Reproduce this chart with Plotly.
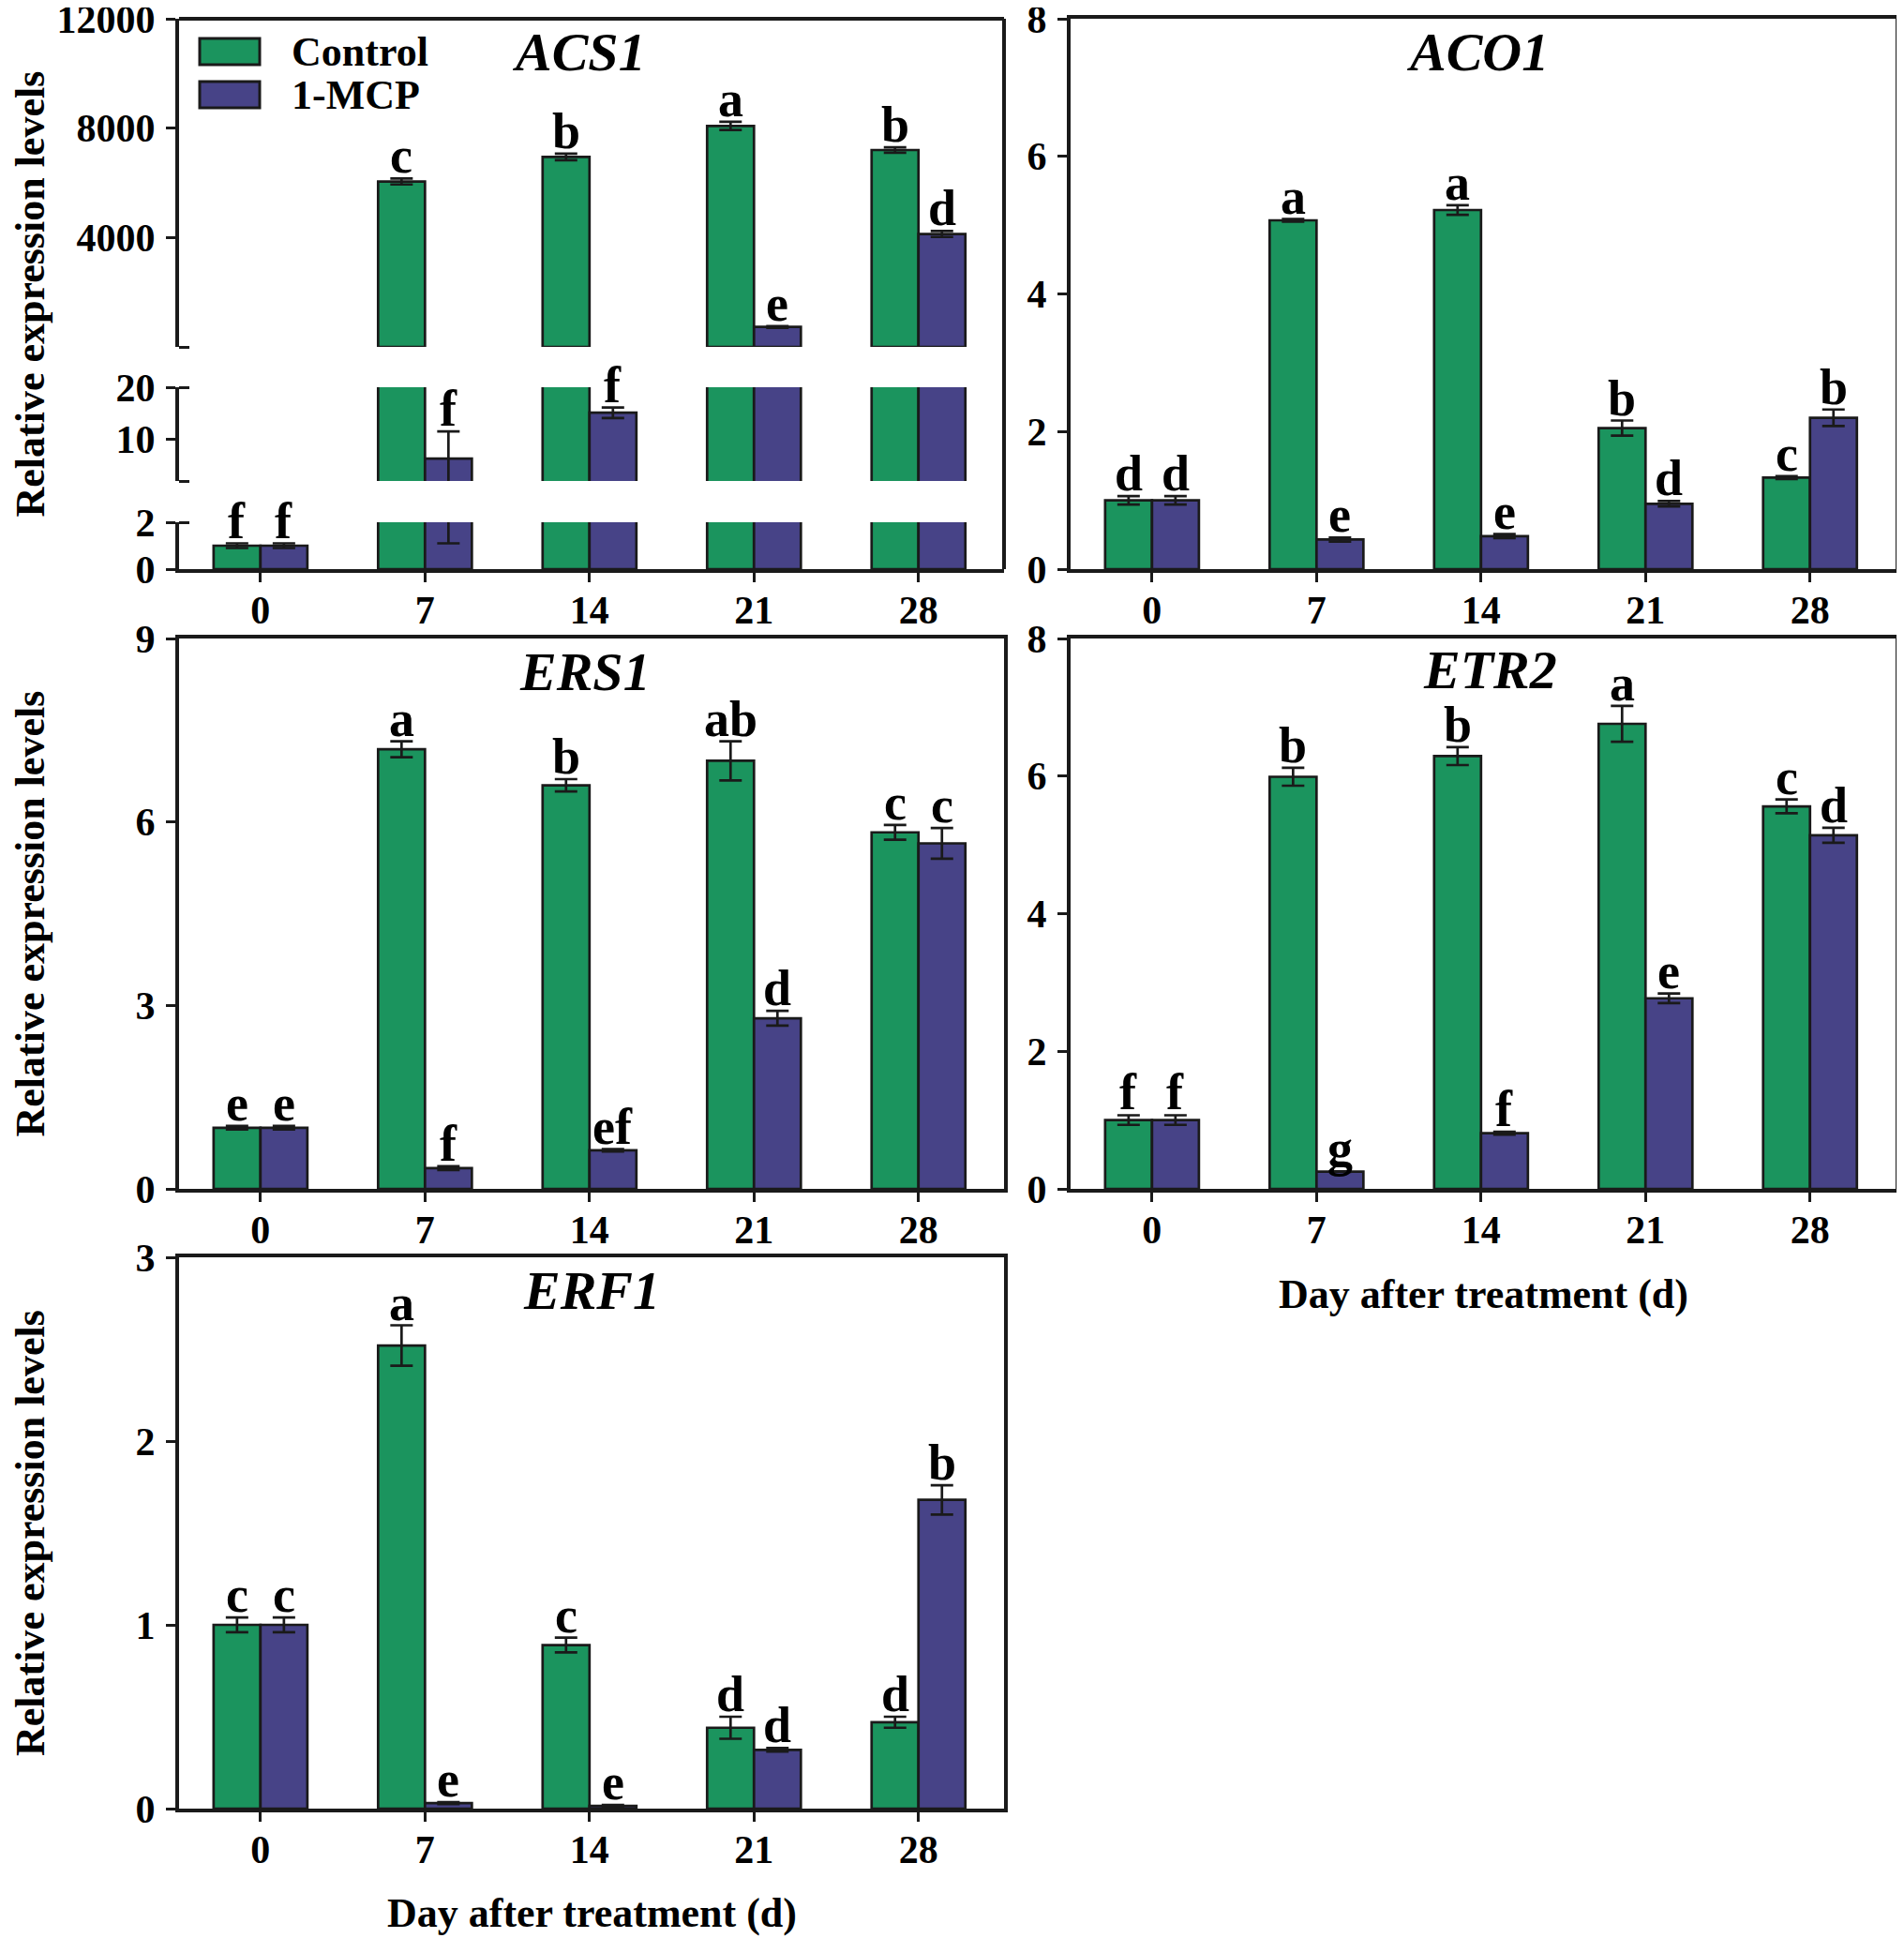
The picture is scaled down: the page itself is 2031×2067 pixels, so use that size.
import plotly.graph_objects as go

# ---------------- data ----------------
days = ["0", "7", "14", "21", "28"]
series_names = ["Control", "1-MCP"]

acs1_ctrl = [1.0, 6050, 6950, 8080, 7200]
acs1_ctrl_err = [0.1, 110, 120, 150, 100]
acs1_mcp = [1.0, 6.3, 15.1, 730, 4130]
acs1_mcp_err = [0.1, 5.2, 1.0, 30, 110]
acs1_ctrl_let = ["f", "c", "b", "a", "b"]
acs1_mcp_let = ["f", "f", "f", "e", "d"]

aco1_ctrl = [1.0, 5.07, 5.22, 2.05, 1.33]
aco1_ctrl_err = [0.06, 0.02, 0.07, 0.11, 0.02]
aco1_mcp = [1.0, 0.43, 0.48, 0.95, 2.20]
aco1_mcp_err = [0.06, 0.03, 0.03, 0.04, 0.12]
aco1_ctrl_let = ["d", "a", "a", "b", "c"]
aco1_mcp_let = ["d", "e", "e", "d", "b"]

ers1_ctrl = [1.0, 7.19, 6.60, 7.00, 5.83]
ers1_ctrl_err = [0.03, 0.13, 0.10, 0.32, 0.12]
ers1_mcp = [1.0, 0.34, 0.63, 2.79, 5.65]
ers1_mcp_err = [0.03, 0.03, 0.02, 0.12, 0.25]
ers1_ctrl_let = ["e", "a", "b", "ab", "c"]
ers1_mcp_let = ["e", "f", "ef", "d", "c"]

etr2_ctrl = [1.0, 5.99, 6.29, 6.76, 5.56]
etr2_ctrl_err = [0.07, 0.13, 0.13, 0.26, 0.10]
etr2_mcp = [1.0, 0.25, 0.81, 2.77, 5.14]
etr2_mcp_err = [0.07, 0.005, 0.02, 0.07, 0.11]
etr2_ctrl_let = ["f", "b", "b", "a", "c"]
etr2_mcp_let = ["f", "g", "f", "e", "d"]

erf1_ctrl = [1.0, 2.52, 0.89, 0.44, 0.47]
erf1_ctrl_err = [0.04, 0.11, 0.04, 0.06, 0.03]
erf1_mcp = [1.0, 0.03, 0.015, 0.32, 1.68]
erf1_mcp_err = [0.04, 0.005, 0.005, 0.01, 0.08]
erf1_ctrl_let = ["c", "a", "c", "d", "d"]
erf1_mcp_let = ["c", "e", "e", "d", "b"]

# broken-axis segments for ACS1: range, ticks, labels, end caps, min value drawn
acs1_bottom = dict(rng=[0, 2], tv=[0, 2], tt=["0", "2"], caps=[2], vmin=0)
acs1_mid = dict(rng=[2, 20], tv=[2, 10, 20], tt=["", "10", "20"], caps=[2, 20], vmin=2)
acs1_top = dict(rng=[0, 12000], tv=[0, 4000, 8000, 12000],
                tt=["", "4000", "8000", "12000"], caps=[0], vmin=20)

# ---------------- style ----------------
GREEN = "#1B945E"
PURPLE = "#474387"
INK = "#1a1a1a"
FONT = "Liberation Serif"
WIN_W, WIN_H = 2031, 2067
OFF = 8                      # page body margin of the html page
W, H = WIN_W - OFF, WIN_H - OFF


def px(x):
    return (x - OFF) / W


def py(y):
    return 1 - (y - OFF) / H


BARGAP = 0.43
HALF = (1 - BARGAP) / 4.0  # offset of each bar centre from the category

XL = [px(191), px(1071)]
XR = [px(1142), px(2022)]
ROW1 = [py(607), py(20)]
ROW2 = [py(1268), py(681)]
ROW3 = [py(1929), py(1341)]
SEG_TOP = [py(370), ROW1[1]]
SEG_MID = [py(513), py(413)]
SEG_BOT = [ROW1[0], py(557)]
XRANGE = [-0.495, 4.52]

fig = go.Figure()


def add_bars(xa, ya, ctrl, ctrl_err, mcp, mcp_err, vmin=None):
    for vals, errs, col, name in ((ctrl, ctrl_err, GREEN, series_names[0]),
                                  (mcp, mcp_err, PURPLE, series_names[1])):
        if vmin is not None:
            v = [val if val > vmin else None for val in vals]
        else:
            v = vals
        fig.add_trace(go.Bar(
            x=days, y=v, name=name, xaxis=xa, yaxis=ya, showlegend=False,
            marker=dict(color=col, line=dict(color=INK, width=2.7)),
            error_y=dict(type="data", array=errs, visible=True,
                         color=INK, thickness=2.7, width=12),
        ))


def add_letters(xa, ya_func, ctrl, ctrl_err, mcp, mcp_err, lc, lm):
    for i in range(len(days)):
        for vals, errs, lets, sgn in ((ctrl, ctrl_err, lc, -1), (mcp, mcp_err, lm, 1)):
            top = vals[i] + errs[i]
            fig.add_annotation(
                x=i + sgn * HALF, y=top, xref=xa, yref=ya_func(top),
                text=lets[i], showarrow=False, yanchor="bottom", yshift=-8,
                font=dict(size=54, family=FONT, color="black", weight="bold"),
            )


# ACS1 (broken axis): y = bottom, y2 = mid, y3 = top
add_bars("x", "y", acs1_ctrl, acs1_ctrl_err, acs1_mcp, acs1_mcp_err, acs1_bottom["vmin"])
add_bars("x", "y2", acs1_ctrl, acs1_ctrl_err, acs1_mcp, acs1_mcp_err, acs1_mid["vmin"])
add_bars("x", "y3", acs1_ctrl, acs1_ctrl_err, acs1_mcp, acs1_mcp_err, acs1_top["vmin"])


def acs1_seg(v):
    if v <= acs1_bottom["rng"][1]:
        return "y"
    if v <= acs1_mid["rng"][1]:
        return "y2"
    return "y3"


add_letters("x", acs1_seg, acs1_ctrl, acs1_ctrl_err, acs1_mcp, acs1_mcp_err,
            acs1_ctrl_let, acs1_mcp_let)

panels = [
    ("x2", "y4", aco1_ctrl, aco1_ctrl_err, aco1_mcp, aco1_mcp_err, aco1_ctrl_let, aco1_mcp_let),
    ("x3", "y5", ers1_ctrl, ers1_ctrl_err, ers1_mcp, ers1_mcp_err, ers1_ctrl_let, ers1_mcp_let),
    ("x4", "y6", etr2_ctrl, etr2_ctrl_err, etr2_mcp, etr2_mcp_err, etr2_ctrl_let, etr2_mcp_let),
    ("x5", "y7", erf1_ctrl, erf1_ctrl_err, erf1_mcp, erf1_mcp_err, erf1_ctrl_let, erf1_mcp_let),
]
for xa, ya, c, ce, m, me, lc, lm in panels:
    add_bars(xa, ya, c, ce, m, me)
    add_letters(xa, (lambda v, ya=ya: ya), c, ce, m, me, lc, lm)

# ---------------- axes ----------------
tickfont = dict(size=42, family=FONT, color="black", weight="bold")


def xaxis(domain, anchor, mirror):
    return dict(domain=domain, anchor=anchor, type="category", range=XRANGE,
                ticks="outside", ticklen=10, tickwidth=3, tickcolor=INK,
                showline=True, linewidth=4, linecolor=INK, mirror=mirror,
                showgrid=False, zeroline=False, tickfont=tickfont,
                ticklabelstandoff=-6, automargin=False, ticklabeloverflow="allow")


def yaxis(domain, anchor, rng, tv, tt=None, mirror=True, caps=None):
    ax = dict(domain=domain, anchor=anchor, range=rng, tickvals=tv,
              ticktext=tt if tt is not None else [str(t) for t in tv],
              ticks="outside", ticklen=10, tickwidth=3, tickcolor=INK,
              showline=True, linewidth=4, linecolor=INK, mirror=mirror,
              showgrid=False, zeroline=False, tickfont=tickfont,
              ticklabelstandoff=3, automargin=False, ticklabeloverflow="allow")
    if caps:
        ax["minor"] = dict(tickmode="array", tickvals=caps, ticks="inside",
                           ticklen=11, tickwidth=3, tickcolor=INK, showgrid=False)
    return ax


fig.update_layout(
    xaxis=xaxis(XL, "y", False),
    yaxis=yaxis(SEG_BOT, "x", acs1_bottom["rng"], acs1_bottom["tv"], acs1_bottom["tt"],
                False, acs1_bottom["caps"]),
    yaxis2=yaxis(SEG_MID, "x", acs1_mid["rng"], acs1_mid["tv"], acs1_mid["tt"],
                 False, acs1_mid["caps"]),
    yaxis3=yaxis(SEG_TOP, "x", acs1_top["rng"], acs1_top["tv"], acs1_top["tt"],
                 False, acs1_top["caps"]),
    xaxis2=xaxis(XR, "y4", True),
    yaxis4=yaxis(ROW1, "x2", [0, 8], [0, 2, 4, 6, 8]),
    xaxis3=xaxis(XL, "y5", True),
    yaxis5=yaxis(ROW2, "x3", [0, 9], [0, 3, 6, 9]),
    xaxis4=xaxis(XR, "y6", True),
    yaxis6=yaxis(ROW2, "x4", [0, 8], [0, 2, 4, 6, 8]),
    xaxis5=xaxis(XL, "y7", True),
    yaxis7=yaxis(ROW3, "x5", [0, 3], [0, 1, 2, 3]),
)

# frame of the broken-axis panel (top and right sides)
fig.add_shape(type="line", xref="paper", yref="paper", x0=XL[0], x1=XL[1],
              y0=ROW1[1], y1=ROW1[1], line=dict(color=INK, width=4))
fig.add_shape(type="line", xref="paper", yref="paper", x0=XL[1], x1=XL[1],
              y0=ROW1[0], y1=ROW1[1], line=dict(color=INK, width=4))

# ---------------- titles ----------------
gene_titles = ["ACS1", "ACO1", "ERS1", "ETR2", "ERF1"]
gene_pos = [(XL, ROW1, -13, -1), (XR, ROW1, -6, -1), (XL, ROW2, -7, -1),
            (XR, ROW2, 7, 1), (XL, ROW3, 0, -1)]
for name, (xd, yd, dx, dy) in zip(gene_titles, gene_pos):
    fig.add_annotation(x=(xd[0] + xd[1]) / 2, y=yd[1], xref="paper", yref="paper",
                       text=name, showarrow=False, xanchor="center", yanchor="top",
                       xshift=dx, yshift=dy,
                       font=dict(size=58, family=FONT, color="black",
                                 weight="bold", style="italic"))

ytitle = "Relative expression levels"
for yd in (ROW1, ROW2, ROW3):
    fig.add_annotation(x=px(32), y=(yd[0] + yd[1]) / 2, xref="paper", yref="paper",
                       text=ytitle, textangle=-90, showarrow=False,
                       xanchor="center", yanchor="middle",
                       font=dict(size=44, family=FONT, color="black", weight="bold"))

xtitle = "Day after treatment (d)"
for xd, yc in ((XR, py(1380)), (XL, py(2040))):
    fig.add_annotation(x=(xd[0] + xd[1]) / 2, y=yc, xref="paper", yref="paper",
                       text=xtitle, showarrow=False, xanchor="center", yanchor="middle",
                       font=dict(size=44, family=FONT, color="black", weight="bold"))

# ---------------- legend (drawn inside ACS1 panel) ----------------
leg_items = [(series_names[0], GREEN, 41, 69, 55), (series_names[1], PURPLE, 87, 115, 102)]
for name, col, y0, y1, yt in leg_items:
    fig.add_shape(type="rect", xref="paper", yref="paper",
                  x0=px(213), x1=px(277), y0=py(y1), y1=py(y0),
                  fillcolor=col, line=dict(color=INK, width=3))
    fig.add_annotation(x=px(309), y=py(yt), xref="paper", yref="paper",
                       text=name, showarrow=False, xanchor="left", yanchor="middle",
                       font=dict(size=44, family=FONT, color="black", weight="bold"))

fig.update_layout(
    width=W, height=H, margin=dict(l=0, r=0, t=0, b=0, autoexpand=False),
    barmode="group", bargap=BARGAP, bargroupgap=0,
    plot_bgcolor="white", paper_bgcolor="white",
    showlegend=False,
    font=dict(family=FONT, color="black", weight="bold"),
)

fig.write_html("out.html")
